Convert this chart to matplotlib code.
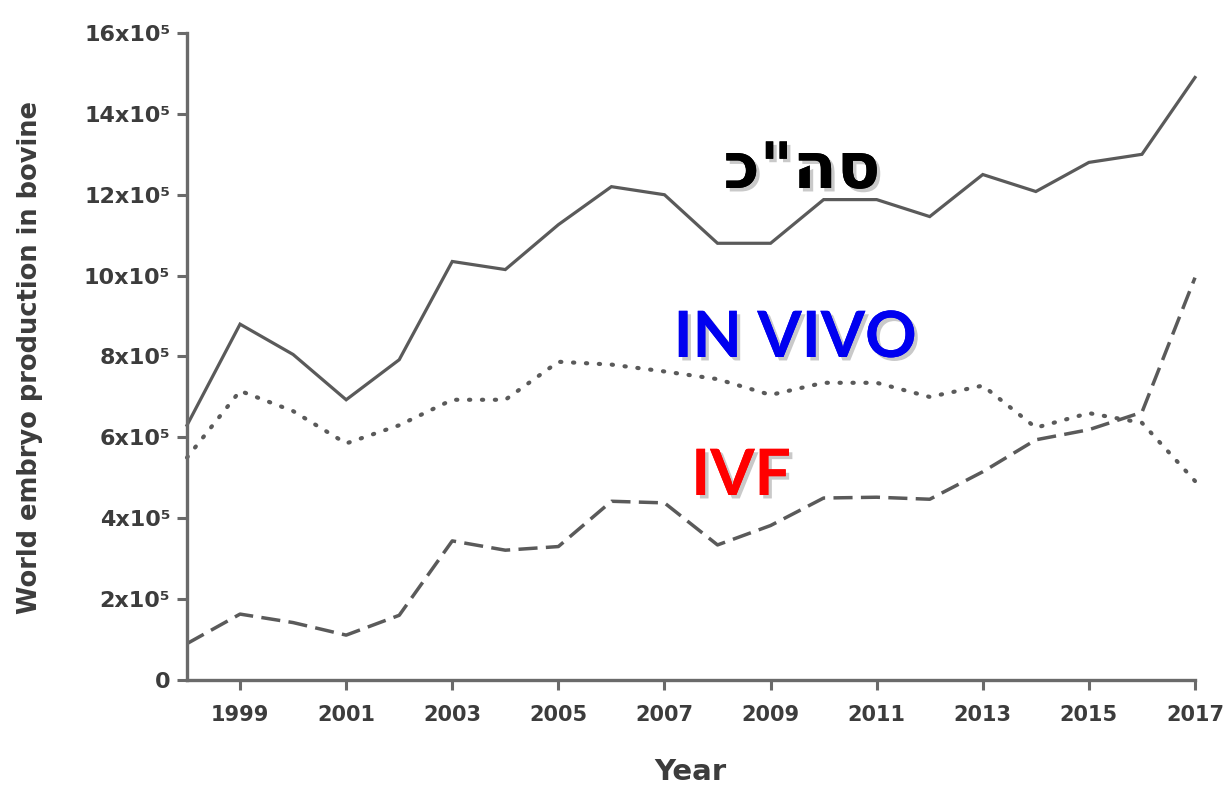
import matplotlib
matplotlib.use("Agg")
import matplotlib.pyplot as plt
import matplotlib.patheffects as pe

# ---- data (values in units of 10^5 embryos) ----
years = list(range(1998, 2018))
total = [6.3, 8.8, 8.05, 6.93, 7.92, 10.35, 10.15, 11.26, 12.2, 12.0,
         10.8, 10.8, 11.88, 11.88, 11.46, 12.5, 12.08, 12.8, 13.0, 14.9]
in_vivo = [5.5, 7.15, 6.65, 5.85, 6.3, 6.93, 6.93, 7.87, 7.8, 7.63,
           7.44, 7.05, 7.35, 7.35, 7.0, 7.28, 6.24, 6.6, 6.36, 4.92]
ivf = [0.9, 1.63, 1.42, 1.11, 1.6, 3.44, 3.21, 3.3, 4.42, 4.38,
       3.34, 3.82, 4.5, 4.52, 4.47, 5.15, 5.94, 6.19, 6.62, 9.95]
scale = 1e5

x_ticks = list(range(1999, 2018, 2))
x_tick_labels = [str(y) for y in x_ticks]
y_ticks = [0, 2, 4, 6, 8, 10, 12, 14, 16]
y_tick_labels = ["0", "2x10⁵", "4x10⁵", "6x10⁵", "8x10⁵",
                 "10x10⁵", "12x10⁵", "14x10⁵", "16x10⁵"]

label_total = "כ\"הס"   # "סה\"כ" in visual (left-to-right) order
label_vivo = "IN VIVO"
label_ivf = "IVF"

# ---- figure ----
W, H = 1225, 785
fig = plt.figure(figsize=(W / 100, H / 100), dpi=100)
fig.patch.set_facecolor("white")
ax = fig.add_axes([187 / W, 1 - 680 / H, (1195 - 187) / W, (680 - 33) / H])

line_color = "#5a5a5a"
axis_color = "#6a6a6a"
text_color = "#3c3c3c"
lw = 2.3

ax.plot(years, [v * scale for v in total], color=line_color, lw=lw,
        solid_joinstyle="miter", clip_on=False)
ax.plot(years, [v * scale for v in in_vivo], color=line_color, lw=3.0,
        linestyle=(0, (0.3, 2.8)), dash_capstyle="round", clip_on=False)
ax.plot(years, [v * scale for v in ivf], color=line_color, lw=lw + 0.2,
        linestyle=(0, (5.5, 2.4)), clip_on=False)

ax.set_xlim(1998, 2017)
ax.set_ylim(0, 16 * scale)

ax.set_xticks(x_ticks)
ax.set_xticklabels(x_tick_labels)
ax.set_yticks([t * scale for t in y_ticks])
ax.set_yticklabels(y_tick_labels)

for s in ["top", "right"]:
    ax.spines[s].set_visible(False)
for s in ["left", "bottom"]:
    ax.spines[s].set_color(axis_color)
    ax.spines[s].set_linewidth(2.4)

ax.tick_params(axis="both", direction="out", length=7, width=2.2,
               color=axis_color, labelcolor=text_color)
ax.tick_params(axis="y", pad=5, labelsize=16)
ax.tick_params(axis="x", pad=11, labelsize=15)
for lab in ax.get_xticklabels() + ax.get_yticklabels():
    lab.set_fontweight("bold")

fig.text(30 / W, 1 - 357 / H, "World embryo production in bovine",
         rotation=90, ha="center", va="center", fontsize=18.5,
         fontweight="bold", color=text_color)
fig.text(690 / W, 1 - 772 / H, "Year", ha="center", va="center",
         fontsize=21, fontweight="bold", color=text_color)

shadow = [pe.withSimplePatchShadow(offset=(2.5, -2.5), shadow_rgbFace="#888888",
                                   alpha=0.45), pe.Normal()]

fig.text(802 / W, 1 - 188 / H, label_total, ha="center", va="baseline",
         fontsize=46, fontweight="bold", color="black",
         family=["DejaVu Sans", "Liberation Sans"], path_effects=shadow)
fig.text(795 / W, 1 - 357 / H, label_vivo, ha="center", va="baseline",
         fontsize=46, fontweight="bold", color="#0000f0",
         family=["Lato", "DejaVu Sans"], path_effects=shadow)
fig.text(741 / W, 1 - 495 / H, label_ivf, ha="center", va="baseline",
         fontsize=46, fontweight="bold", color="#ff0000",
         family=["Lato", "DejaVu Sans"], path_effects=shadow)

fig.savefig("out.png", dpi=100, facecolor="white")
